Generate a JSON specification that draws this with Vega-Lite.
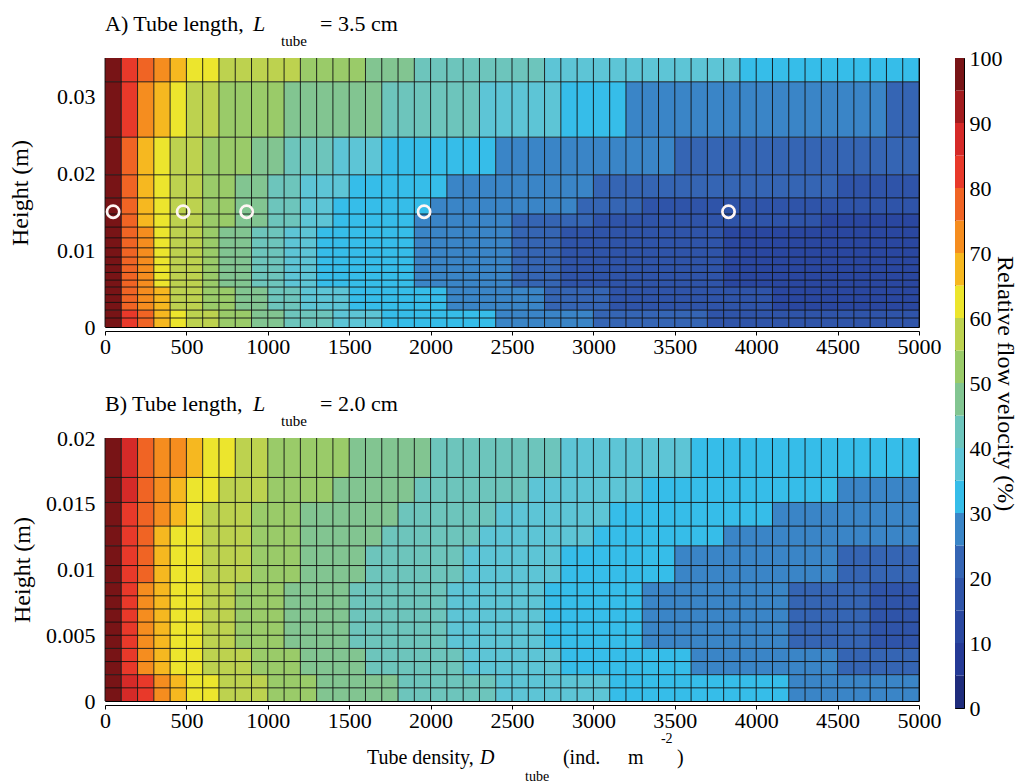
{
"$schema":"https://vega.github.io/schema/vega-lite/v6.json",
"background":"white",
"padding":{"left":8,"top":12,"right":5,"bottom":0},
"bounds":"flush",
"spacing":850,
"config":{"font":"Liberation Serif","view":{"stroke":"black","strokeWidth":1},
"axis":{"labelFont":"Liberation Serif","labelFontSize":22,"labelColor":"black","titleFont":"Liberation Serif","titleFontSize":24,"titleFontWeight":"normal","titleColor":"black","labelFlush":false,"labelExpr":"'' + datum.value"}},
"datasets":{
"cellsA":[
{"x":0,"x2":100,"y":0,"y2":0.0022,"v":97.5},{"x":100,"x2":200,"y":0,"y2":0.0022,"v":82.5},{"x":200,"x2":300,"y":0,"y2":0.0022,"v":77.5},{"x":300,"x2":400,"y":0,"y2":0.0022,"v":67.5},{"x":400,"x2":500,"y":0,"y2":0.0022,"v":62.5},{"x":500,"x2":700,"y":0,"y2":0.0022,"v":57.5},{"x":700,"x2":900,"y":0,"y2":0.0022,"v":52.5},{"x":900,"x2":1100,"y":0,"y2":0.0022,"v":47.5},{"x":1100,"x2":1400,"y":0,"y2":0.0022,"v":42.5},{"x":1400,"x2":1700,"y":0,"y2":0.0022,"v":37.5},{"x":1700,"x2":2400,"y":0,"y2":0.0022,"v":32.5},{"x":2400,"x2":3000,"y":0,"y2":0.0022,"v":27.5},{"x":3000,"x2":3700,"y":0,"y2":0.0022,"v":22.5},{"x":3700,"x2":5000,"y":0,"y2":0.0022,"v":17.5},
{"x":0,"x2":100,"y":0.0022,"y2":0.0052,"v":97.5},{"x":100,"x2":200,"y":0.0022,"y2":0.0052,"v":77.5},{"x":200,"x2":300,"y":0.0022,"y2":0.0052,"v":72.5},{"x":300,"x2":400,"y":0.0022,"y2":0.0052,"v":67.5},{"x":400,"x2":600,"y":0.0022,"y2":0.0052,"v":57.5},{"x":600,"x2":800,"y":0.0022,"y2":0.0052,"v":52.5},{"x":800,"x2":1000,"y":0.0022,"y2":0.0052,"v":47.5},{"x":1000,"x2":1200,"y":0.0022,"y2":0.0052,"v":42.5},{"x":1200,"x2":1500,"y":0.0022,"y2":0.0052,"v":37.5},{"x":1500,"x2":2100,"y":0.0022,"y2":0.0052,"v":32.5},{"x":2100,"x2":2700,"y":0.0022,"y2":0.0052,"v":27.5},{"x":2700,"x2":3100,"y":0.0022,"y2":0.0052,"v":22.5},{"x":3100,"x2":4100,"y":0.0022,"y2":0.0052,"v":17.5},{"x":4100,"x2":5000,"y":0.0022,"y2":0.0052,"v":12.5},
{"x":0,"x2":100,"y":0.0052,"y2":0.013,"v":97.5},{"x":100,"x2":200,"y":0.0052,"y2":0.013,"v":77.5},{"x":200,"x2":300,"y":0.0052,"y2":0.013,"v":72.5},{"x":300,"x2":400,"y":0.0052,"y2":0.013,"v":62.5},{"x":400,"x2":600,"y":0.0052,"y2":0.013,"v":57.5},{"x":600,"x2":700,"y":0.0052,"y2":0.013,"v":52.5},{"x":700,"x2":900,"y":0.0052,"y2":0.013,"v":47.5},{"x":900,"x2":1100,"y":0.0052,"y2":0.013,"v":42.5},{"x":1100,"x2":1300,"y":0.0052,"y2":0.013,"v":37.5},{"x":1300,"x2":1900,"y":0.0052,"y2":0.013,"v":32.5},{"x":1900,"x2":2500,"y":0.0052,"y2":0.013,"v":27.5},{"x":2500,"x2":2800,"y":0.0052,"y2":0.013,"v":22.5},{"x":2800,"x2":3800,"y":0.0052,"y2":0.013,"v":17.5},{"x":3800,"x2":5000,"y":0.0052,"y2":0.013,"v":12.5},
{"x":0,"x2":100,"y":0.013,"y2":0.0147,"v":97.5},{"x":100,"x2":200,"y":0.013,"y2":0.0147,"v":77.5},{"x":200,"x2":300,"y":0.013,"y2":0.0147,"v":67.5},{"x":300,"x2":400,"y":0.013,"y2":0.0147,"v":62.5},{"x":400,"x2":600,"y":0.013,"y2":0.0147,"v":57.5},{"x":600,"x2":800,"y":0.013,"y2":0.0147,"v":52.5},{"x":800,"x2":1000,"y":0.013,"y2":0.0147,"v":47.5},{"x":1000,"x2":1200,"y":0.013,"y2":0.0147,"v":42.5},{"x":1200,"x2":1400,"y":0.013,"y2":0.0147,"v":37.5},{"x":1400,"x2":1900,"y":0.013,"y2":0.0147,"v":32.5},{"x":1900,"x2":2500,"y":0.013,"y2":0.0147,"v":27.5},{"x":2500,"x2":3000,"y":0.013,"y2":0.0147,"v":22.5},{"x":3000,"x2":4400,"y":0.013,"y2":0.0147,"v":17.5},{"x":4400,"x2":5000,"y":0.013,"y2":0.0147,"v":12.5},
{"x":0,"x2":100,"y":0.0147,"y2":0.0168,"v":97.5},{"x":100,"x2":200,"y":0.0147,"y2":0.0168,"v":77.5},{"x":200,"x2":300,"y":0.0147,"y2":0.0168,"v":67.5},{"x":300,"x2":400,"y":0.0147,"y2":0.0168,"v":62.5},{"x":400,"x2":600,"y":0.0147,"y2":0.0168,"v":57.5},{"x":600,"x2":800,"y":0.0147,"y2":0.0168,"v":52.5},{"x":800,"x2":1000,"y":0.0147,"y2":0.0168,"v":47.5},{"x":1000,"x2":1200,"y":0.0147,"y2":0.0168,"v":42.5},{"x":1200,"x2":1400,"y":0.0147,"y2":0.0168,"v":37.5},{"x":1400,"x2":2000,"y":0.0147,"y2":0.0168,"v":32.5},{"x":2000,"x2":2900,"y":0.0147,"y2":0.0168,"v":27.5},{"x":2900,"x2":3300,"y":0.0147,"y2":0.0168,"v":22.5},{"x":3300,"x2":5000,"y":0.0147,"y2":0.0168,"v":17.5},
{"x":0,"x2":100,"y":0.0168,"y2":0.0198,"v":97.5},{"x":100,"x2":200,"y":0.0168,"y2":0.0198,"v":77.5},{"x":200,"x2":300,"y":0.0168,"y2":0.0198,"v":67.5},{"x":300,"x2":400,"y":0.0168,"y2":0.0198,"v":62.5},{"x":400,"x2":600,"y":0.0168,"y2":0.0198,"v":57.5},{"x":600,"x2":800,"y":0.0168,"y2":0.0198,"v":52.5},{"x":800,"x2":1000,"y":0.0168,"y2":0.0198,"v":47.5},{"x":1000,"x2":1200,"y":0.0168,"y2":0.0198,"v":42.5},{"x":1200,"x2":1500,"y":0.0168,"y2":0.0198,"v":37.5},{"x":1500,"x2":2100,"y":0.0168,"y2":0.0198,"v":32.5},{"x":2100,"x2":3000,"y":0.0168,"y2":0.0198,"v":27.5},{"x":3000,"x2":4500,"y":0.0168,"y2":0.0198,"v":22.5},{"x":4500,"x2":5000,"y":0.0168,"y2":0.0198,"v":17.5},
{"x":0,"x2":100,"y":0.0198,"y2":0.0247,"v":97.5},{"x":100,"x2":200,"y":0.0198,"y2":0.0247,"v":77.5},{"x":200,"x2":300,"y":0.0198,"y2":0.0247,"v":67.5},{"x":300,"x2":400,"y":0.0198,"y2":0.0247,"v":62.5},{"x":400,"x2":600,"y":0.0198,"y2":0.0247,"v":57.5},{"x":600,"x2":900,"y":0.0198,"y2":0.0247,"v":52.5},{"x":900,"x2":1100,"y":0.0198,"y2":0.0247,"v":47.5},{"x":1100,"x2":1400,"y":0.0198,"y2":0.0247,"v":42.5},{"x":1400,"x2":1700,"y":0.0198,"y2":0.0247,"v":37.5},{"x":1700,"x2":2400,"y":0.0198,"y2":0.0247,"v":32.5},{"x":2400,"x2":3500,"y":0.0198,"y2":0.0247,"v":27.5},{"x":3500,"x2":5000,"y":0.0198,"y2":0.0247,"v":22.5},
{"x":0,"x2":100,"y":0.0247,"y2":0.0319,"v":97.5},{"x":100,"x2":200,"y":0.0247,"y2":0.0319,"v":82.5},{"x":200,"x2":300,"y":0.0247,"y2":0.0319,"v":72.5},{"x":300,"x2":400,"y":0.0247,"y2":0.0319,"v":67.5},{"x":400,"x2":500,"y":0.0247,"y2":0.0319,"v":62.5},{"x":500,"x2":700,"y":0.0247,"y2":0.0319,"v":57.5},{"x":700,"x2":1100,"y":0.0247,"y2":0.0319,"v":52.5},{"x":1100,"x2":1700,"y":0.0247,"y2":0.0319,"v":47.5},{"x":1700,"x2":2300,"y":0.0247,"y2":0.0319,"v":42.5},{"x":2300,"x2":2800,"y":0.0247,"y2":0.0319,"v":37.5},{"x":2800,"x2":3200,"y":0.0247,"y2":0.0319,"v":32.5},{"x":3200,"x2":4800,"y":0.0247,"y2":0.0319,"v":27.5},{"x":4800,"x2":5000,"y":0.0247,"y2":0.0319,"v":22.5},
{"x":0,"x2":100,"y":0.0319,"y2":0.035,"v":97.5},{"x":100,"x2":200,"y":0.0319,"y2":0.035,"v":82.5},{"x":200,"x2":300,"y":0.0319,"y2":0.035,"v":77.5},{"x":300,"x2":400,"y":0.0319,"y2":0.035,"v":72.5},{"x":400,"x2":500,"y":0.0319,"y2":0.035,"v":67.5},{"x":500,"x2":700,"y":0.0319,"y2":0.035,"v":62.5},{"x":700,"x2":1200,"y":0.0319,"y2":0.035,"v":57.5},{"x":1200,"x2":1600,"y":0.0319,"y2":0.035,"v":52.5},{"x":1600,"x2":1900,"y":0.0319,"y2":0.035,"v":47.5},{"x":1900,"x2":2700,"y":0.0319,"y2":0.035,"v":42.5},{"x":2700,"x2":3900,"y":0.0319,"y2":0.035,"v":37.5},{"x":3900,"x2":5000,"y":0.0319,"y2":0.035,"v":32.5}
],
"cellsB":[
{"x":0,"x2":100,"y":0,"y2":0.002,"v":97.5},{"x":100,"x2":200,"y":0,"y2":0.002,"v":87.5},{"x":200,"x2":300,"y":0,"y2":0.002,"v":82.5},{"x":300,"x2":400,"y":0,"y2":0.002,"v":72.5},{"x":400,"x2":500,"y":0,"y2":0.002,"v":67.5},{"x":500,"x2":700,"y":0,"y2":0.002,"v":62.5},{"x":700,"x2":1000,"y":0,"y2":0.002,"v":57.5},{"x":1000,"x2":1300,"y":0,"y2":0.002,"v":52.5},{"x":1300,"x2":1800,"y":0,"y2":0.002,"v":47.5},{"x":1800,"x2":2400,"y":0,"y2":0.002,"v":42.5},{"x":2400,"x2":3100,"y":0,"y2":0.002,"v":37.5},{"x":3100,"x2":4200,"y":0,"y2":0.002,"v":32.5},{"x":4200,"x2":5000,"y":0,"y2":0.002,"v":27.5},
{"x":0,"x2":100,"y":0.002,"y2":0.004,"v":97.5},{"x":100,"x2":200,"y":0.002,"y2":0.004,"v":82.5},{"x":200,"x2":300,"y":0.002,"y2":0.004,"v":72.5},{"x":300,"x2":400,"y":0.002,"y2":0.004,"v":67.5},{"x":400,"x2":600,"y":0.002,"y2":0.004,"v":62.5},{"x":600,"x2":900,"y":0.002,"y2":0.004,"v":57.5},{"x":900,"x2":1200,"y":0.002,"y2":0.004,"v":52.5},{"x":1200,"x2":1600,"y":0.002,"y2":0.004,"v":47.5},{"x":1600,"x2":2200,"y":0.002,"y2":0.004,"v":42.5},{"x":2200,"x2":2800,"y":0.002,"y2":0.004,"v":37.5},{"x":2800,"x2":3600,"y":0.002,"y2":0.004,"v":32.5},{"x":3600,"x2":4500,"y":0.002,"y2":0.004,"v":27.5},{"x":4500,"x2":5000,"y":0.002,"y2":0.004,"v":22.5},
{"x":0,"x2":100,"y":0.004,"y2":0.009,"v":97.5},{"x":100,"x2":200,"y":0.004,"y2":0.009,"v":82.5},{"x":200,"x2":300,"y":0.004,"y2":0.009,"v":72.5},{"x":300,"x2":400,"y":0.004,"y2":0.009,"v":67.5},{"x":400,"x2":600,"y":0.004,"y2":0.009,"v":62.5},{"x":600,"x2":800,"y":0.004,"y2":0.009,"v":57.5},{"x":800,"x2":1100,"y":0.004,"y2":0.009,"v":52.5},{"x":1100,"x2":1500,"y":0.004,"y2":0.009,"v":47.5},{"x":1500,"x2":2100,"y":0.004,"y2":0.009,"v":42.5},{"x":2100,"x2":2700,"y":0.004,"y2":0.009,"v":37.5},{"x":2700,"x2":3300,"y":0.004,"y2":0.009,"v":32.5},{"x":3300,"x2":4200,"y":0.004,"y2":0.009,"v":27.5},{"x":4200,"x2":4700,"y":0.004,"y2":0.009,"v":22.5},{"x":4700,"x2":5000,"y":0.004,"y2":0.009,"v":17.5},
{"x":0,"x2":100,"y":0.009,"y2":0.0118,"v":97.5},{"x":100,"x2":200,"y":0.009,"y2":0.0118,"v":82.5},{"x":200,"x2":300,"y":0.009,"y2":0.0118,"v":77.5},{"x":300,"x2":400,"y":0.009,"y2":0.0118,"v":67.5},{"x":400,"x2":600,"y":0.009,"y2":0.0118,"v":62.5},{"x":600,"x2":900,"y":0.009,"y2":0.0118,"v":57.5},{"x":900,"x2":1200,"y":0.009,"y2":0.0118,"v":52.5},{"x":1200,"x2":1600,"y":0.009,"y2":0.0118,"v":47.5},{"x":1600,"x2":2200,"y":0.009,"y2":0.0118,"v":42.5},{"x":2200,"x2":2800,"y":0.009,"y2":0.0118,"v":37.5},{"x":2800,"x2":3500,"y":0.009,"y2":0.0118,"v":32.5},{"x":3500,"x2":4500,"y":0.009,"y2":0.0118,"v":27.5},{"x":4500,"x2":5000,"y":0.009,"y2":0.0118,"v":22.5},
{"x":0,"x2":100,"y":0.0118,"y2":0.0133,"v":97.5},{"x":100,"x2":200,"y":0.0118,"y2":0.0133,"v":82.5},{"x":200,"x2":300,"y":0.0118,"y2":0.0133,"v":77.5},{"x":300,"x2":400,"y":0.0118,"y2":0.0133,"v":67.5},{"x":400,"x2":600,"y":0.0118,"y2":0.0133,"v":62.5},{"x":600,"x2":900,"y":0.0118,"y2":0.0133,"v":57.5},{"x":900,"x2":1200,"y":0.0118,"y2":0.0133,"v":52.5},{"x":1200,"x2":1700,"y":0.0118,"y2":0.0133,"v":47.5},{"x":1700,"x2":2300,"y":0.0118,"y2":0.0133,"v":42.5},{"x":2300,"x2":3000,"y":0.0118,"y2":0.0133,"v":37.5},{"x":3000,"x2":3800,"y":0.0118,"y2":0.0133,"v":32.5},{"x":3800,"x2":5000,"y":0.0118,"y2":0.0133,"v":27.5},
{"x":0,"x2":100,"y":0.0133,"y2":0.0151,"v":97.5},{"x":100,"x2":200,"y":0.0133,"y2":0.0151,"v":82.5},{"x":200,"x2":300,"y":0.0133,"y2":0.0151,"v":77.5},{"x":300,"x2":400,"y":0.0133,"y2":0.0151,"v":72.5},{"x":400,"x2":500,"y":0.0133,"y2":0.0151,"v":67.5},{"x":500,"x2":600,"y":0.0133,"y2":0.0151,"v":62.5},{"x":600,"x2":900,"y":0.0133,"y2":0.0151,"v":57.5},{"x":900,"x2":1200,"y":0.0133,"y2":0.0151,"v":52.5},{"x":1200,"x2":1800,"y":0.0133,"y2":0.0151,"v":47.5},{"x":1800,"x2":2400,"y":0.0133,"y2":0.0151,"v":42.5},{"x":2400,"x2":3100,"y":0.0133,"y2":0.0151,"v":37.5},{"x":3100,"x2":4100,"y":0.0133,"y2":0.0151,"v":32.5},{"x":4100,"x2":5000,"y":0.0133,"y2":0.0151,"v":27.5},
{"x":0,"x2":100,"y":0.0151,"y2":0.017,"v":97.5},{"x":100,"x2":200,"y":0.0151,"y2":0.017,"v":87.5},{"x":200,"x2":300,"y":0.0151,"y2":0.017,"v":77.5},{"x":300,"x2":400,"y":0.0151,"y2":0.017,"v":72.5},{"x":400,"x2":500,"y":0.0151,"y2":0.017,"v":67.5},{"x":500,"x2":700,"y":0.0151,"y2":0.017,"v":62.5},{"x":700,"x2":1000,"y":0.0151,"y2":0.017,"v":57.5},{"x":1000,"x2":1400,"y":0.0151,"y2":0.017,"v":52.5},{"x":1400,"x2":1900,"y":0.0151,"y2":0.017,"v":47.5},{"x":1900,"x2":2600,"y":0.0151,"y2":0.017,"v":42.5},{"x":2600,"x2":3300,"y":0.0151,"y2":0.017,"v":37.5},{"x":3300,"x2":4500,"y":0.0151,"y2":0.017,"v":32.5},{"x":4500,"x2":5000,"y":0.0151,"y2":0.017,"v":27.5},
{"x":0,"x2":100,"y":0.017,"y2":0.02,"v":97.5},{"x":100,"x2":200,"y":0.017,"y2":0.02,"v":87.5},{"x":200,"x2":300,"y":0.017,"y2":0.02,"v":77.5},{"x":300,"x2":500,"y":0.017,"y2":0.02,"v":72.5},{"x":500,"x2":600,"y":0.017,"y2":0.02,"v":67.5},{"x":600,"x2":800,"y":0.017,"y2":0.02,"v":62.5},{"x":800,"x2":1000,"y":0.017,"y2":0.02,"v":57.5},{"x":1000,"x2":1500,"y":0.017,"y2":0.02,"v":52.5},{"x":1500,"x2":2000,"y":0.017,"y2":0.02,"v":47.5},{"x":2000,"x2":2800,"y":0.017,"y2":0.02,"v":42.5},{"x":2800,"x2":3600,"y":0.017,"y2":0.02,"v":37.5},{"x":3600,"x2":5000,"y":0.017,"y2":0.02,"v":32.5}
],
"levels":[{"lo":0,"hi":5,"v":2.5},{"lo":5,"hi":10,"v":7.5},{"lo":10,"hi":15,"v":12.5},{"lo":15,"hi":20,"v":17.5},{"lo":20,"hi":25,"v":22.5},{"lo":25,"hi":30,"v":27.5},{"lo":30,"hi":35,"v":32.5},{"lo":35,"hi":40,"v":37.5},{"lo":40,"hi":45,"v":42.5},{"lo":45,"hi":50,"v":47.5},{"lo":50,"hi":55,"v":52.5},{"lo":55,"hi":60,"v":57.5},{"lo":60,"hi":65,"v":62.5},{"lo":65,"hi":70,"v":67.5},{"lo":70,"hi":75,"v":72.5},{"lo":75,"hi":80,"v":77.5},{"lo":80,"hi":85,"v":82.5},{"lo":85,"hi":90,"v":87.5},{"lo":90,"hi":95,"v":92.5},{"lo":95,"hi":100,"v":97.5}],
"gridX":[{"g":0},{"g":100},{"g":200},{"g":300},{"g":400},{"g":500},{"g":600},{"g":700},{"g":800},{"g":900},{"g":1000},{"g":1100},{"g":1200},{"g":1300},{"g":1400},{"g":1500},{"g":1600},{"g":1700},{"g":1800},{"g":1900},{"g":2000},{"g":2100},{"g":2200},{"g":2300},{"g":2400},{"g":2500},{"g":2600},{"g":2700},{"g":2800},{"g":2900},{"g":3000},{"g":3100},{"g":3200},{"g":3300},{"g":3400},{"g":3500},{"g":3600},{"g":3700},{"g":3800},{"g":3900},{"g":4000},{"g":4100},{"g":4200},{"g":4300},{"g":4400},{"g":4500},{"g":4600},{"g":4700},{"g":4800},{"g":4900},{"g":5000}],
"gridYA":[{"g":0.00117},{"g":0.0022},{"g":0.0032},{"g":0.0042},{"g":0.0052},{"g":0.0061},{"g":0.0071},{"g":0.0081},{"g":0.0091},{"g":0.0103},{"g":0.0116},{"g":0.013},{"g":0.0147},{"g":0.0168},{"g":0.0198},{"g":0.0247},{"g":0.0319}],
"gridYB":[{"g":0.001},{"g":0.002},{"g":0.003},{"g":0.004},{"g":0.005},{"g":0.006},{"g":0.007},{"g":0.008},{"g":0.009},{"g":0.0103},{"g":0.0118},{"g":0.0133},{"g":0.0151},{"g":0.017}],
"probes":[{"px":50,"py":0.015},{"px":480,"py":0.015},{"px":870,"py":0.015},{"px":1960,"py":0.015},{"px":3830,"py":0.015}]
},
"hconcat":[
{"vconcat":[
{"width":814,"height":269,
"layer":[
{"data":{"name":"cellsA"},"mark":{"type":"rect"},
"encoding":{
"x":{"field":"x","type":"quantitative","scale":{"domain":[0,5000],"nice":false},"axis":{"values":[0,500,1000,1500,2000,2500,3000,3500,4000,4500,5000],"title":null,"grid":false,"domainColor":"black","tickColor":"black","tickSize":4,"offset":4,"labelPadding":1}},
"x2":{"field":"x2"},
"y":{"field":"y","type":"quantitative","scale":{"domain":[0,0.035],"nice":false,"zero":false},"axis":{"values":[0,0.01,0.02,0.03],"title":"Height (m)","grid":false,"domain":false,"ticks":false,"labelPadding":10,"titlePadding":24}},
"y2":{"field":"y2"},
"color":{"field":"v","type":"quantitative","scale":{"type":"quantize","domain":[0,100],"range":["#1f2c7c","#253a96","#2a47a0","#2f54a9","#3565b4","#3a85c7","#36bde9","#5dc5d6","#6dc5bc","#82c591","#9acb69","#bdd24f","#ece52d","#f6b820","#f58d1f","#f06424","#e8392a","#d52a28","#a21c1e","#781416"]},"legend":null}}},
{"data":{"name":"gridX"},"mark":{"type":"rule","color":"#111","strokeWidth":0.9},"encoding":{"x":{"field":"g","type":"quantitative"}}},
{"data":{"name":"gridYA"},"mark":{"type":"rule","color":"#111","strokeWidth":0.9},"encoding":{"y":{"field":"g","type":"quantitative"}}},
{"data":{"name":"probes"},"mark":{"type":"point","shape":"circle","filled":false,"stroke":"#fff6f4","strokeWidth":2.7,"size":150,"opacity":1},"encoding":{"x":{"field":"px","type":"quantitative"},"y":{"field":"py","type":"quantitative"}}},
{"data":{"values":[{}]},"mark":{"type":"text","text":"A) Tube length,","align":"left","baseline":"alphabetic","font":"Liberation Serif","fontSize":22,"color":"black"},"encoding":{"x":{"datum":0},"y":{"datum":0.0385}}},
{"data":{"values":[{}]},"mark":{"type":"text","text":"L","align":"left","baseline":"alphabetic","font":"Liberation Serif","fontSize":22,"fontStyle":"italic","color":"black"},"encoding":{"x":{"datum":909},"y":{"datum":0.0385}}},
{"data":{"values":[{}]},"mark":{"type":"text","text":"tube","align":"left","baseline":"alphabetic","font":"Liberation Serif","fontSize":15,"color":"black"},"encoding":{"x":{"datum":1081},"y":{"datum":0.0366}}},
{"data":{"values":[{}]},"mark":{"type":"text","text":"= 3.5 cm","align":"left","baseline":"alphabetic","font":"Liberation Serif","fontSize":22,"color":"black"},"encoding":{"x":{"datum":1321},"y":{"datum":0.0385}}}
]},
{"width":814,"height":263,
"layer":[
{"data":{"name":"cellsB"},"mark":{"type":"rect"},
"encoding":{
"x":{"field":"x","type":"quantitative","scale":{"domain":[0,5000],"nice":false},"axis":{"values":[0,500,1000,1500,2000,2500,3000,3500,4000,4500,5000],"title":null,"grid":false,"domainColor":"black","tickColor":"black","tickSize":4,"offset":4,"labelPadding":1}},
"x2":{"field":"x2"},
"y":{"field":"y","type":"quantitative","scale":{"domain":[0,0.02],"nice":false,"zero":false},"axis":{"values":[0,0.005,0.01,0.015,0.02],"title":"Height (m)","grid":false,"domain":false,"ticks":false,"labelPadding":10,"titlePadding":11}},
"y2":{"field":"y2"},
"color":{"field":"v","type":"quantitative","scale":{"type":"quantize","domain":[0,100]},"legend":null}}},
{"data":{"name":"gridX"},"mark":{"type":"rule","color":"#111","strokeWidth":0.9},"encoding":{"x":{"field":"g","type":"quantitative"}}},
{"data":{"name":"gridYB"},"mark":{"type":"rule","color":"#111","strokeWidth":0.9},"encoding":{"y":{"field":"g","type":"quantitative"}}},
{"data":{"values":[{}]},"mark":{"type":"text","text":"B) Tube length,","align":"left","baseline":"alphabetic","font":"Liberation Serif","fontSize":22,"color":"black"},"encoding":{"x":{"datum":0},"y":{"datum":0.02205}}},
{"data":{"values":[{}]},"mark":{"type":"text","text":"L","align":"left","baseline":"alphabetic","font":"Liberation Serif","fontSize":22,"fontStyle":"italic","color":"black"},"encoding":{"x":{"datum":909},"y":{"datum":0.02205}}},
{"data":{"values":[{}]},"mark":{"type":"text","text":"tube","align":"left","baseline":"alphabetic","font":"Liberation Serif","fontSize":15,"color":"black"},"encoding":{"x":{"datum":1081},"y":{"datum":0.02091}}},
{"data":{"values":[{}]},"mark":{"type":"text","text":"= 2.0 cm","align":"left","baseline":"alphabetic","font":"Liberation Serif","fontSize":22,"color":"black"},"encoding":{"x":{"datum":1321},"y":{"datum":0.02205}}},
{"data":{"values":[{}]},"mark":{"type":"text","text":"Tube density,","align":"left","baseline":"alphabetic","font":"Liberation Serif","fontSize":20,"color":"black"},"encoding":{"x":{"datum":1609},"y":{"datum":-0.00479}}},
{"data":{"values":[{}]},"mark":{"type":"text","text":"D","align":"left","baseline":"alphabetic","font":"Liberation Serif","fontSize":20,"fontStyle":"italic","color":"black"},"encoding":{"x":{"datum":2303},"y":{"datum":-0.00479}}},
{"data":{"values":[{}]},"mark":{"type":"text","text":"tube","align":"left","baseline":"alphabetic","font":"Liberation Serif","fontSize":14,"color":"black"},"encoding":{"x":{"datum":2580},"y":{"datum":-0.00608}}},
{"data":{"values":[{}]},"mark":{"type":"text","text":"(ind.","align":"left","baseline":"alphabetic","font":"Liberation Serif","fontSize":20,"color":"black"},"encoding":{"x":{"datum":2813},"y":{"datum":-0.00479}}},
{"data":{"values":[{}]},"mark":{"type":"text","text":"m","align":"left","baseline":"alphabetic","font":"Liberation Serif","fontSize":20,"color":"black"},"encoding":{"x":{"datum":3213},"y":{"datum":-0.00479}}},
{"data":{"values":[{}]},"mark":{"type":"text","text":"-2","align":"left","baseline":"alphabetic","font":"Liberation Serif","fontSize":14,"color":"black"},"encoding":{"x":{"datum":3415},"y":{"datum":-0.00319}}},
{"data":{"values":[{}]},"mark":{"type":"text","text":")","align":"left","baseline":"alphabetic","font":"Liberation Serif","fontSize":20,"color":"black"},"encoding":{"x":{"datum":3513},"y":{"datum":-0.00479}}}
]}
],"spacing":111,"bounds":"flush"},
{"width":9,"height":650,
"data":{"name":"levels"},
"mark":{"type":"rect"},
"encoding":{
"y":{"field":"lo","type":"quantitative","scale":{"domain":[0,100],"nice":false},"axis":{"orient":"right","values":[0,10,20,30,40,50,60,70,80,90,100],"title":"Relative flow velocity (%)","grid":true,"gridColor":"black","gridWidth":1,"gridOpacity":1,"domain":false,"ticks":false,"labelPadding":5,"titlePadding":-10,"titleAngle":90}},
"y2":{"field":"hi"},
"color":{"field":"v","type":"quantitative","scale":{"type":"quantize","domain":[0,100]},"legend":null}
}}
]
}
